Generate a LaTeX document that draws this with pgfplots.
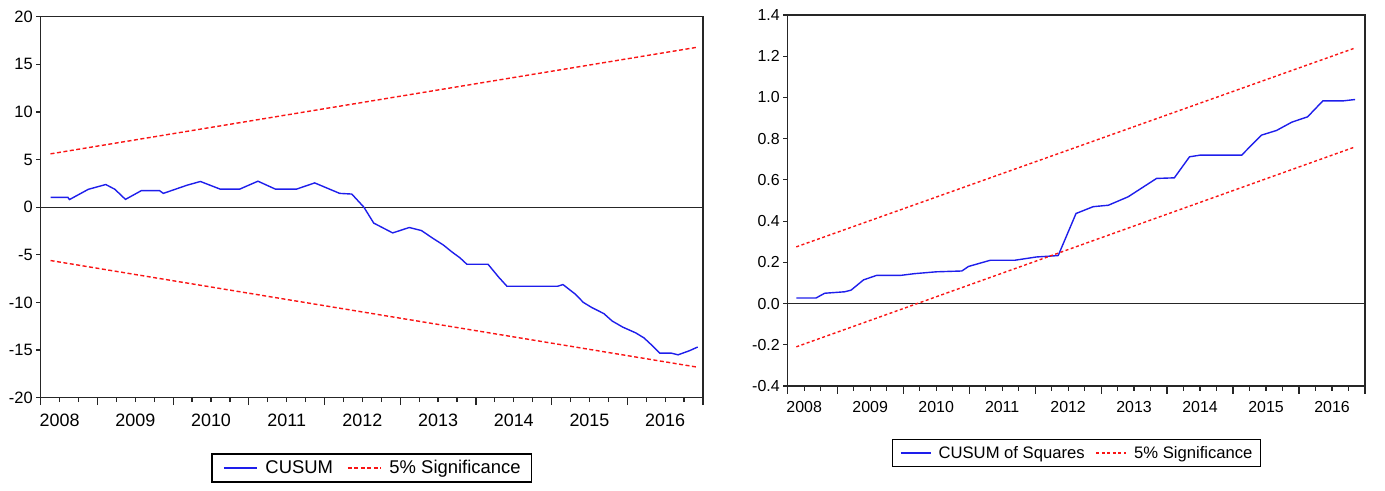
\documentclass[border=0pt]{standalone}
\usepackage{fontspec}
\setmainfont{Liberation Sans}
\usepackage{pgfplots}
\pgfplotsset{compat=1.18}

\pgfplotsset{
  evstyle/.style={
    scale only axis,
    anchor=south west,
    xmin=2008.25, xmax=2017,
    axis line style={black!85, line width=1.4bp},
    tick style={black!85, line width=1.2bp},
    tick align=outside,
    tick pos=left,
    xtick={2008.5,2009.5,2010.5,2011.5,2012.5,2013.5,2014.5,2015.5,2016.5},
    xticklabels={2008,2009,2010,2011,2012,2013,2014,2015,2016},
    minor xtick={2008.75,2009.25,2009.75,2010.25,2010.75,2011.25,2011.75,2012.25,2012.75,2013.25,2013.75,2014.25,2014.75,2015.25,2015.75,2016.25,2016.75},
    major tick length=4.5bp, minor tick length=4.5bp,
    extra x ticks={2008.25,2009,2010,2011,2012,2013,2014,2015,2016,2017},
    extra x tick labels={},
    extra x tick style={major tick length=7.5bp},
    /pgf/number format/assume math mode=true,
    legend columns=2,
  },
  cusum/.style={color={rgb,255:red,30;green,30;blue,235}, line width=1.4bp},
  sig/.style={color={rgb,255:red,250;green,20;blue,20}, line width=1.4bp, dash pattern=on 4bp off 2.5bp},
}

\begin{document}
\begin{tikzpicture}
\path (0bp,0bp) rectangle (1385bp,491bp);

% ---------------- Left: CUSUM ----------------
\begin{axis}[evstyle,
  at={(40.7bp,93.3bp)}, width=662.3bp, height=381bp,
  ymin=-20, ymax=20, ytick={-20,-15,...,20},
  yticklabel style={font=\fontsize{16.5}{18}\selectfont},
  xticklabel style={font=\fontsize{18}{20}\selectfont, yshift=-8.5bp},
  legend image code/.code={\draw[#1] (0bp,0bp) -- (33bp,0bp);},
  legend style={at={(0.5,-0.1845)}, anchor=center, draw=black, line width=1.2bp,
    font=\fontsize{18.5}{20}\selectfont,
    inner xsep=11bp, inner ysep=6.5bp,
    nodes={inner sep=0pt},
    /tikz/every odd column/.append style={column sep=8bp},
    /tikz/every even column/.append style={column sep=14bp}},
]
\draw[black!85, line width=1.2bp] (axis cs:2008.25,0) -- (axis cs:2017,0);
\addplot[cusum] coordinates {
(2008.38,1.03) (2008.61,1.03) (2008.63,0.8) (2008.88,1.88) (2009.11,2.38)
(2009.23,1.88) (2009.37,0.82) (2009.58,1.74) (2009.82,1.74) (2009.87,1.45)
(2010.18,2.3) (2010.36,2.7) (2010.62,1.9) (2010.88,1.9) (2011.12,2.73)
(2011.35,1.9) (2011.63,1.9) (2011.87,2.55) (2012.20,1.45) (2012.36,1.38)
(2012.52,0) (2012.65,-1.67) (2012.90,-2.7) (2013.12,-2.13) (2013.28,-2.45)
(2013.43,-3.26) (2013.57,-3.97) (2013.68,-4.68) (2013.79,-5.32) (2013.88,-5.99)
(2014.16,-5.99) (2014.30,-7.34) (2014.41,-8.3) (2015.08,-8.3) (2015.15,-8.12)
(2015.31,-9.11) (2015.42,-10.0) (2015.53,-10.53) (2015.69,-11.17) (2015.80,-11.95)
(2015.94,-12.59) (2016.11,-13.19) (2016.22,-13.72) (2016.34,-14.61) (2016.43,-15.32)
(2016.58,-15.32) (2016.67,-15.5) (2016.82,-15.07) (2016.93,-14.68)
};
\addlegendentry{CUSUM}
\addplot[sig] coordinates {(2008.38,5.6) (2016.93,16.8)};
\addlegendentry{5\% Significance}
\addplot[sig, forget plot] coordinates {(2008.38,-5.6) (2016.93,-16.8)};
\end{axis}

% ---------------- Right: CUSUM of Squares ----------------
\begin{axis}[evstyle,
  at={(787.7bp,105bp)}, width=577.3bp, height=371bp,
  ymin=-0.4, ymax=1.4, ytick={-0.4,-0.2,0,0.2,0.4,0.6,0.8,1.0,1.2,1.4},
  yticklabel style={font=\fontsize{16}{18}\selectfont, /pgf/number format/.cd, fixed, fixed zerofill, precision=1},
  xticklabel style={font=\fontsize{16}{18}\selectfont, yshift=-7bp},
  legend image code/.code={\draw[#1] (0bp,0bp) -- (30bp,0bp);},
  legend style={at={(0.5,-0.1806)}, anchor=center, draw=black, line width=1.2bp,
    font=\fontsize{16.7}{18}\selectfont,
    inner xsep=8bp, inner ysep=6.5bp,
    nodes={inner sep=0pt},
    /tikz/every odd column/.append style={column sep=7bp},
    /tikz/every even column/.append style={column sep=11bp}},
]
\draw[black!85, line width=1.2bp] (axis cs:2008.25,0) -- (axis cs:2017,0);
\addplot[cusum] coordinates {
(2008.38,0.027) (2008.68,0.027) (2008.81,0.05) (2009.11,0.057) (2009.21,0.065)
(2009.40,0.115) (2009.60,0.137) (2009.97,0.137) (2010.17,0.145) (2010.50,0.154)
(2010.89,0.158) (2010.99,0.18) (2011.32,0.21) (2011.69,0.21) (2012.02,0.226)
(2012.22,0.23) (2012.35,0.233) (2012.62,0.437) (2012.88,0.47) (2013.11,0.477)
(2013.41,0.518) (2013.84,0.607) (2014.11,0.61) (2014.34,0.712) (2014.50,0.72)
(2015.13,0.72) (2015.43,0.817) (2015.66,0.84) (2015.89,0.88) (2016.13,0.906)
(2016.36,0.983) (2016.66,0.983) (2016.85,0.99)
};
\addlegendentry{CUSUM of Squares}
\addplot[sig, dash pattern=on 3bp off 2.5bp] coordinates {(2008.38,0.275) (2016.85,1.24)};
\addlegendentry{5\% Significance}
\addplot[sig, dash pattern=on 3bp off 2.5bp, forget plot] coordinates {(2008.38,-0.21) (2016.85,0.76)};
\end{axis}
\end{tikzpicture}
\end{document}
